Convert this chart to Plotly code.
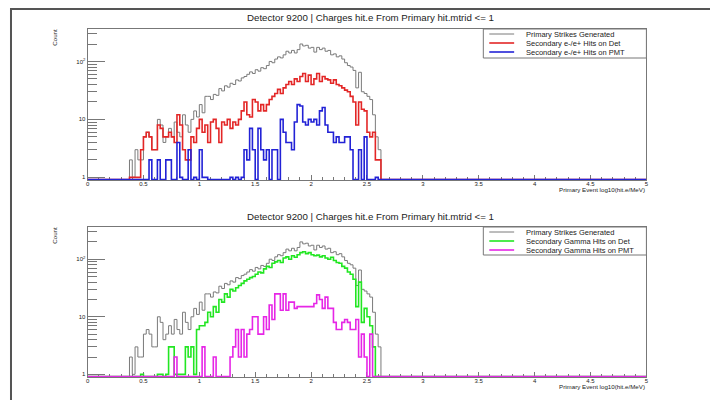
import numpy as np
import plotly.graph_objects as go

# ---------------- data (counts per bin, bins of 0.025 starting at 0.35) ----------------
BIN_START = 0.35
BIN_WIDTH = 0.025
X_MIN, X_MAX = 0.0, 5.0

primary = [0, 2, 1, 3, 2, 2, 5, 6, 5, 3,
           3, 10, 8, 4, 5, 7, 5, 9, 6, 5,
           12, 8, 6, 10, 14, 11, 18, 13, 25, 25,
           22, 27, 26, 34, 31, 38, 36, 42, 40, 48,
           46, 52, 55, 60, 66, 62, 72, 68, 78, 75,
           85, 100, 95, 110, 120, 115, 130, 150, 140, 155,
           140, 160, 200, 185, 190, 170, 175, 145, 175, 160,
           170, 150, 155, 130, 135, 120, 125, 110, 95, 85,
           80, 70, 35, 65, 30, 28, 25, 22, 12, 5,
           3, 0]

ee_det = [0, 1, 1, 1, 1, 3, 5, 6, 5, 3,
          3, 8, 7, 5, 5, 6, 5, 4, 12, 8,
          3, 2, 2, 5, 4, 7, 10, 6, 8, 4,
          9, 10, 7, 4, 9, 8, 10, 7, 9, 8,
          10, 14, 20, 12, 11,
          22, 20, 14, 18, 14, 18, 22, 25, 28, 33,
          28, 35, 40, 45, 40, 50, 45, 55, 62, 45,
          58, 40, 50, 62, 45, 55, 50, 48, 42, 48,
          40, 38, 35, 32, 30, 25, 20, 8, 20, 15,
          14, 6, 5, 6, 2, 2, 0]

ee_pmt = [0, 0, 0, 0, 0, 0, 0, 0, 2, 0,
          0, 2, 0, 0, 2, 2, 0, 0, 4, 1,
          0, 0, 3, 0, 1, 0, 3, 1, 1, 0,
          0, 0, 0, 0, 0, 0, 0, 1, 0, 1,
          0, 1, 3, 2, 7, 3, 0, 7, 3, 2,
          3, 0, 3, 3, 0, 10, 6, 4, 4, 3,
          9, 18, 17, 9, 8, 10, 9, 10, 8, 14,
          16, 8, 6, 6, 4, 5, 4, 4, 5, 5,
          3, 0, 0, 3, 0, 5, 0, 0, 0, 1,
          0, 0]

gamma_det = [0, 0, 0, 0, 0, 1, 0, 0, 0, 0,
             0, 1, 1, 0, 1, 3, 3, 1, 1, 1,
             1, 3, 2, 3, 1, 6, 7, 7, 8, 12,
             10, 15, 12, 20, 18, 25, 22, 30, 28, 32,
             35, 38, 42, 45, 48, 50, 55, 60, 58, 68,
             75, 72, 85, 90, 95, 88, 105, 110, 100, 115,
             108, 120, 130, 135, 125, 130, 120, 115, 118, 110,
             115, 105, 100, 108, 95, 88, 85, 75, 70, 60,
             55, 45, 15, 40, 8, 14, 10, 7, 3, 0,
             0, 0]

gamma_pmt = [0, 0, 0, 0, 0, 0, 0, 0, 0, 0,
             0, 0, 0, 0, 0, 0, 0, 2, 0, 0,
             0, 0, 0, 0, 0, 0, 0, 3, 0, 0,
             0, 2, 0, 0, 0, 0, 0, 2, 3, 6,
             2, 6, 2, 5, 6, 10, 10, 5, 5, 10,
             6, 16, 9, 25, 25, 13, 25, 13, 18, 18,
             14, 15, 15, 15, 15, 15, 15, 17, 24, 20,
             14, 22, 14, 14, 8, 6, 6, 8, 9, 8,
             6, 6, 9, 2, 5, 2, 0, 5, 0, 0,
             0, 0]

TITLE = "Detector 9200 | Charges hit.e From Primary hit.mtrid <= 1"
X_TITLE = "Primary Event log10(hit.e/MeV)"
Y_TITLE = "Count"
LEG_TOP = ["Primary Strikes Generated", "Secondary e-/e+ Hits on Det", "Secondary e-/e+ Hits on PMT"]
LEG_BOT = ["Primary Strikes Generated", "Secondary Gamma Hits on Det", "Secondary Gamma Hits on PMT"]

# ---------------- styling ----------------
PAGE_OFF = 8            # default body margin of the html page
W, H = 718 - PAGE_OFF, 400 - PAGE_OFF
FONT = "Liberation Sans, Arial, Helvetica, sans-serif"
C_GRAY = "#7a7a7a"
C_RED = "#e32626"
C_BLUE = "#2222d6"
C_GREEN = "#22e622"
C_MAG = "#e626e6"
AX_COL = "#777777"
Y_LOG_MIN, Y_LOG_MAX = -0.046, 2.56
FLOOR = 10 ** (-0.040)   # empty bins are drawn on the axis floor, as ROOT does

n_full = int(round((X_MAX - X_MIN) / BIN_WIDTH))
edges = X_MIN + BIN_WIDTH * np.arange(n_full + 1)
offset = int(round((BIN_START - X_MIN) / BIN_WIDTH))


def step_xy(counts):
    full = np.zeros(n_full)
    full[offset:offset + len(counts)] = counts
    y = np.where(full > 0, full, FLOOR)
    xs = list(edges[:-1]) + [edges[-1]]
    ys = list(y) + [y[-1]]
    return xs, ys


def px_x(p):
    return (p - PAGE_OFF) / W


def px_y(p):
    return 1 - (p - PAGE_OFF) / H


fig = go.Figure()

panels = [
    dict(xa="x", ya="y", series=[(primary, C_GRAY, 1.0), (ee_det, C_RED, 1.6), (ee_pmt, C_BLUE, 1.6)],
         labels=LEG_TOP, top=29, bottom=180),
    dict(xa="x2", ya="y2", series=[(primary, C_GRAY, 1.0), (gamma_det, C_GREEN, 1.6), (gamma_pmt, C_MAG, 1.6)],
         labels=LEG_BOT, top=227, bottom=377),
]

for pan in panels:
    for (cnt, col, lw), name in zip(pan["series"], pan["labels"]):
        xs, ys = step_xy(cnt)
        fig.add_trace(go.Scatter(x=xs, y=ys, mode="lines", line=dict(color=col, width=lw, shape="hv"),
                                 name=name, showlegend=False, xaxis=pan["xa"], yaxis=pan["ya"],
                                 hoverinfo="skip"))

LEFT, RIGHT = 86, 648
axis_common = dict(showline=True, linecolor=AX_COL, linewidth=1, mirror=True, showgrid=False,
                   zeroline=False, ticks="inside", tickcolor=AX_COL, layer="below traces",
                   tickfont=dict(size=6, family=FONT, color="#222"))

layout = dict(width=W, height=H, margin=dict(l=0, r=0, t=0, b=0),
              paper_bgcolor="white", plot_bgcolor="white", showlegend=False,
              font=dict(family=FONT, color="#222"))

shapes = []
annotations = []
for i, pan in enumerate(panels):
    sfx = "" if i == 0 else "2"
    layout["xaxis" + sfx] = dict(axis_common, domain=[px_x(LEFT), px_x(RIGHT)], range=[X_MIN, X_MAX],
                                 anchor="y" + sfx, tickmode="linear", tick0=0, dtick=0.5, ticklen=5,
                                 ticklabelstandoff=-2,
                                 minor=dict(ticks="inside", ticklen=3, dtick=0.1, tickcolor=AX_COL))
    layout["yaxis" + sfx] = dict(axis_common, domain=[px_y(pan["bottom"]), px_y(pan["top"])], type="log",
                                 range=[Y_LOG_MIN, Y_LOG_MAX], anchor="x" + sfx,
                                 tickmode="array", tickvals=[1, 10, 100], ticktext=["1", "10", "10<sup>2</sup>"],
                                 ticklen=17,
                                 minor=dict(ticks="inside", ticklen=9, tickcolor=AX_COL, tickmode="array",
                                            tickvals=[2, 3, 4, 5, 6, 7, 8, 9, 20, 30, 40, 50, 60, 70, 80, 90,
                                                      200, 300]))
    top = pan["top"]
    # title
    annotations.append(dict(x=px_x(371), y=px_y(top - 11), xref="paper", yref="paper", text=TITLE,
                            showarrow=False, font=dict(size=9.7, family=FONT, color="#222"),
                            xanchor="center", yanchor="middle"))
    # x title
    annotations.append(dict(x=px_x(RIGHT + 1), y=px_y(pan["bottom"] + 9), xref="paper", yref="paper",
                            text=X_TITLE, showarrow=False, font=dict(size=6.2, family=FONT, color="#222"),
                            xanchor="right", yanchor="middle"))
    # y title
    annotations.append(dict(x=px_x(52), y=px_y(top + 8), xref="paper", yref="paper", text=Y_TITLE,
                            showarrow=False, textangle=-90, font=dict(size=6.2, family=FONT, color="#222"),
                            xanchor="center", yanchor="middle"))
    # legend box
    lb = 58 if i == 0 else 255
    shapes.append(dict(type="rect", xref="paper", yref="paper", x0=px_x(484), x1=px_x(RIGHT),
                       y0=px_y(lb), y1=px_y(top), line=dict(color=AX_COL, width=1), fillcolor="white",
                       layer="above"))
    rows = [top + 5, top + 14, top + 23]
    for (cnt, col, lw), name, ry in zip(pan["series"], pan["labels"], rows):
        shapes.append(dict(type="line", xref="paper", yref="paper", x0=px_x(490), x1=px_x(515),
                           y0=px_y(ry), y1=px_y(ry), line=dict(color=col, width=lw), layer="above"))
        annotations.append(dict(x=px_x(525), y=px_y(ry), xref="paper", yref="paper", text=name,
                                showarrow=False, font=dict(size=7.5, family=FONT, color="#222"),
                                xanchor="left", yanchor="middle"))

# outer pad border
shapes.append(dict(type="rect", xref="paper", yref="paper", x0=px_x(9), x1=px_x(760), y0=px_y(440),
                   y1=px_y(9), line=dict(color="#555555", width=2), layer="above"))

layout["shapes"] = shapes
layout["annotations"] = annotations
fig.update_layout(**layout)

fig.write_html("out.html")
